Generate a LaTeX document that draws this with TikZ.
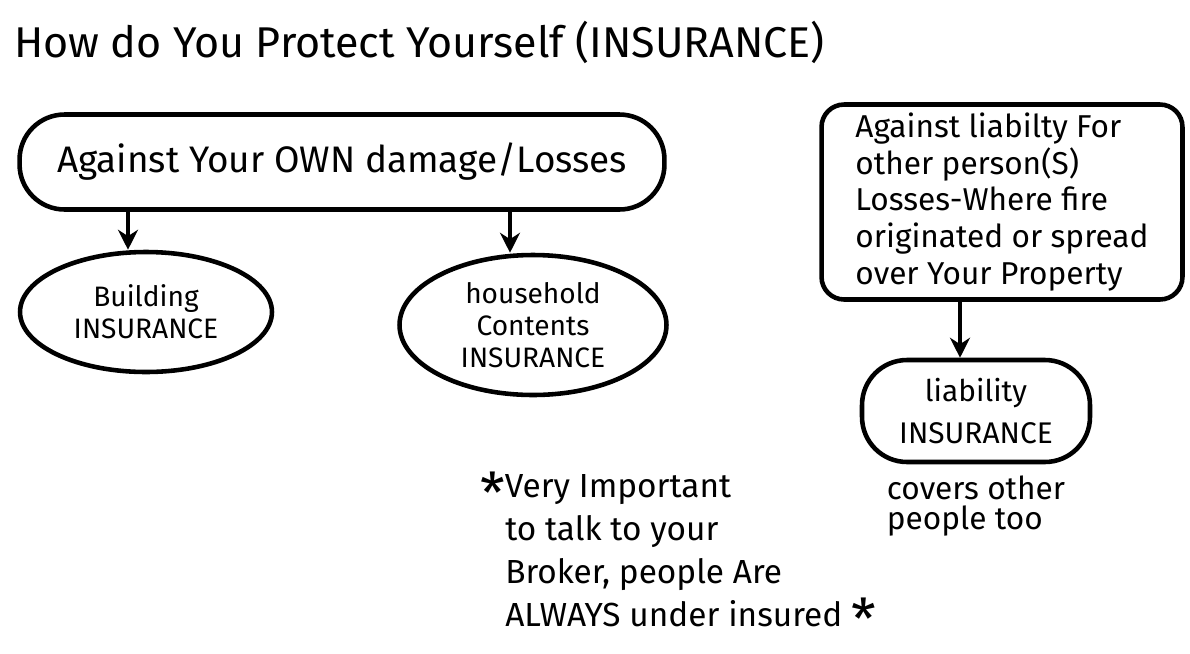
\documentclass[tikz,border=0pt]{standalone}
\usepackage{fontspec}
\setmainfont{Fira Sans}
\usetikzlibrary{shapes.geometric, arrows.meta, positioning}

\tikzset{
  pen/.style={draw, black, line width=2.6pt},
  ownbox/.style={pen, rounded corners=0.9cm, minimum width=12.9cm, minimum height=1.9cm, font=\fontsize{21}{24}\selectfont},
  liabbox/.style={pen, rounded corners=0.45cm, minimum width=7.22cm, minimum height=3.9cm, align=left, font=\fontsize{18}{21}\selectfont},
  kindoval/.style={pen, ellipse, align=center, inner sep=0pt, font=\fontsize{16}{18}\selectfont},
  pillbox/.style={pen, rounded corners=0.9cm, align=center, font=\fontsize{17}{24}\selectfont},
  hint/.style={align=left, font=\fontsize{18}{18}\selectfont},
  tip/.style={line width=2.6pt, -{Stealth[length=4mm, width=4mm]}}
}

\begin{document}
\begin{tikzpicture}[x=0.02cm, y=-0.02cm]
    \useasboundingbox (0,0) rectangle (1190,653);

    % Title
    \node[anchor=west, font=\fontsize{24.5}{30}\selectfont] (title) at (8,42) {How do You Protect Yourself (INSURANCE)};

    % Own damage side
    \node[ownbox] (own) at (342,162) {Against Your OWN damage/Losses};
    \node[kindoval, minimum width=5.04cm, minimum height=2.4cm] (build) at (146,312) {Building\\INSURANCE};
    \node[kindoval, minimum width=5.34cm, minimum height=2.8cm] (house) at (533,325) {household\\Contents\\INSURANCE};

    % Liability side
    \node[liabbox] (liab) at (1002,202) {Against liabilty For\\other person(S)\\Losses-Where fire\\originated or spread\\over Your Property};
    \node[pillbox, minimum width=4.56cm, minimum height=2.04cm] (liabins) at (976,411) {liability\\INSURANCE};
    \node[hint, below=0.1cm of liabins, font=\fontsize{18}{17}\selectfont] (covers) {covers other\\people too};

    % Arrows
    \draw[tip] (own.south -| 128,0) -- (build.north -| 128,0);
    \draw[tip] (own.south -| 510,0) -- (house.north -| 510,0);
    \draw[tip] (liab.south -| 960,0) -- (liabins.north -| 960,0);

    % Note on the broker
    \node[hint, anchor=north west, font=\fontsize{19}{24.5}\selectfont] (note) at (474,468) {\raisebox{-0.5em}[0pt][0pt]{\fontsize{32}{23}\selectfont *}Very Important\\\hspace*{0.75em}to talk to your\\\hspace*{0.75em}Broker, people Are\\\hspace*{0.75em}ALWAYS under insured \raisebox{-0.4em}[0pt][0pt]{\fontsize{32}{23}\selectfont *}};
\end{tikzpicture}
\end{document}
